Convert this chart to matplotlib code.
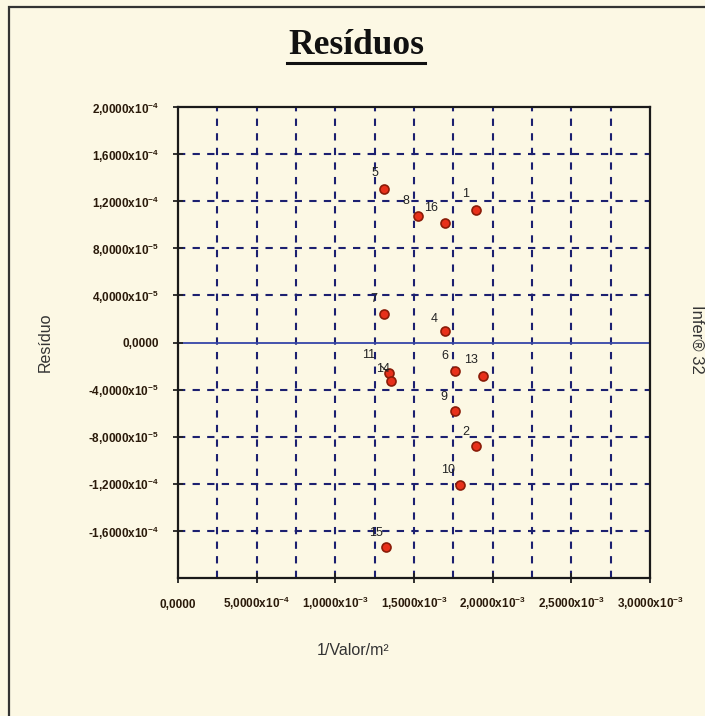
import matplotlib
matplotlib.use("Agg")
import matplotlib.pyplot as plt
from matplotlib.patches import Rectangle
from matplotlib.lines import Line2D

# ---- data ----
point_ids = ["5", "8", "16", "1", "7", "4", "11", "14", "6", "13", "9", "2", "10", "15"]
inv_valor = [1.312e-3, 1.524e-3, 1.694e-3, 1.896e-3, 1.312e-3, 1.694e-3,
             1.340e-3, 1.355e-3, 1.758e-3, 1.938e-3, 1.758e-3, 1.896e-3,
             1.790e-3, 1.323e-3]
residuo = [1.302e-4, 1.075e-4, 1.013e-4, 1.126e-4, 2.38e-5, 9.6e-6,
           -2.58e-5, -3.29e-5, -2.44e-5, -2.87e-5, -5.85e-5, -8.77e-5,
           -1.208e-4, -1.733e-4]
label_offsets = {"5": (-9, 16), "8": (-12, 15), "16": (-13, 15), "1": (-11, 16),
                 "7": (-11, 15), "4": (-10, 12), "11": (-20, 18), "14": (-8, 12),
                 "6": (-10, 15), "13": (-12, 16), "9": (-11, 14), "2": (-10, 14),
                 "10": (-12, 15), "15": (-10, 14)}

x_ticks = [0, 5e-4, 1e-3, 1.5e-3, 2e-3, 2.5e-3, 3e-3]
x_tick_labels = ["0,0000", r"5,0000x10$^{-4}$", r"1,0000x10$^{-3}$", r"1,5000x10$^{-3}$",
                 r"2,0000x10$^{-3}$", r"2,5000x10$^{-3}$", r"3,0000x10$^{-3}$"]
y_ticks = [-1.6e-4, -1.2e-4, -8e-5, -4e-5, 0, 4e-5, 8e-5, 1.2e-4, 1.6e-4, 2e-4]
y_tick_labels = [r"-1,6000x10$^{-4}$", r"-1,2000x10$^{-4}$", r"-8,0000x10$^{-5}$",
                 r"-4,0000x10$^{-5}$", "0,0000", r"4,0000x10$^{-5}$", r"8,0000x10$^{-5}$",
                 r"1,2000x10$^{-4}$", r"1,6000x10$^{-4}$", r"2,0000x10$^{-4}$"]
x_grid = [i * 2.5e-4 for i in range(1, 12)]

BG = "#FCF8E4"
GRID = "#1c2070"

plt.rcParams['font.family'] = ['Liberation Sans', 'DejaVu Sans']
plt.rcParams['mathtext.fontset'] = 'custom'
plt.rcParams['mathtext.rm'] = 'Liberation Sans:bold'
plt.rcParams['mathtext.it'] = 'Liberation Sans:bold'

fig = plt.figure(figsize=(7.05, 7.16), dpi=100, facecolor=BG)
ax = fig.add_axes([178 / 705, 1 - 578 / 716, (650 - 178) / 705, (578 - 107) / 716])
ax.set_facecolor(BG)

ax.set_xlim(0, 3e-3)
ax.set_ylim(-2e-4, 2e-4)

for xv in x_grid:
    ax.axvline(xv, color=GRID, lw=1.5, ls=(0, (3.5, 3.5)), zorder=1)
for yv in y_ticks:
    if yv != 0 and yv != 2e-4:
        ax.axhline(yv, color=GRID, lw=1.5, ls=(0, (3.5, 3.5)), zorder=1)
ax.axhline(0, color="#3545a8", lw=1.3, zorder=1.5)

ax.scatter(inv_valor, residuo, s=42, c="#e8301a", edgecolors="#8a1c08",
           linewidths=1.2, zorder=3)

for pid, xv, yv in zip(point_ids, inv_valor, residuo):
    dx, dy = label_offsets[pid]
    if pid == "11":
        ax.annotate(pid, (xv, yv), xytext=(dx, dy), textcoords="offset pixels",
                    fontsize=9, color="#222222", ha="center", va="center",
                    arrowprops=dict(arrowstyle="-", color="#222222", lw=0.8,
                                    shrinkA=3, shrinkB=2))
    else:
        ax.annotate(pid, (xv, yv), xytext=(dx, dy), textcoords="offset pixels",
                    fontsize=9, color="#222222", ha="center", va="center")

ax.set_xticks(x_ticks)
ax.set_xticklabels(x_tick_labels, fontsize=8.5, fontweight="bold", color="#2a1a0a")
for lbl in ax.get_xticklabels():
    lbl.set_va("baseline")
ax.set_yticks(y_ticks)
ax.set_yticklabels(y_tick_labels, fontsize=8.5, fontweight="bold", color="#2a1a0a")
ax.tick_params(axis="both", direction="inout", length=7, width=1.3, color="#222222")
ax.tick_params(axis="x", pad=18)
ax.tick_params(axis="y", pad=10)

for sp in ax.spines.values():
    sp.set_color("#1a1a1a")
    sp.set_linewidth(1.6)

ax.set_ylabel("Resíduo", fontsize=11.5, color="#333333")
ax.yaxis.set_label_coords(-125 / 472, 0.5)
ax.set_xlabel("1/Valor/m²", fontsize=11.5, color="#333333")
ax.xaxis.set_label_coords(0.37, -(643 - 578) / 471)

# title with underline
fig.text(356 / 705, 1 - 46 / 716, "Resíduos", fontsize=25.5, fontweight="bold",
         family=["Liberation Serif", "DejaVu Serif"], ha="center", va="center",
         color="#111111")
fig.add_artist(Line2D([287 / 705, 425 / 705], [1 - 63 / 716, 1 - 63 / 716],
                      transform=fig.transFigure, color="#111111", lw=2.2))

# side text
fig.text(697 / 705, 1 - 305 / 716, "Infer® 32", fontsize=12, rotation=-90,
         ha="center", va="top", color="#333333")

# outer frame
fig.add_artist(Rectangle((9 / 705, -0.1), 1.2, 1.1 - 7 / 716, transform=fig.transFigure,
                         fill=False, edgecolor="#333333", lw=1.6))

fig.savefig("out.png", dpi=100, facecolor=BG)
